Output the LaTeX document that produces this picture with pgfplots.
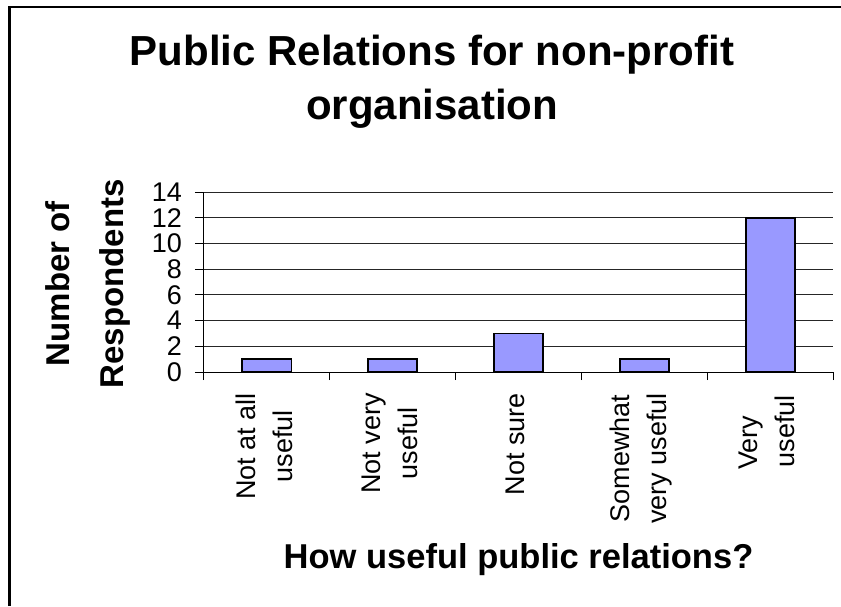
\documentclass[border=0pt]{standalone}
\usepackage{fontspec}
\setmainfont{Liberation Sans}
\usepackage{pgfplots}
\pgfplotsset{compat=1.18}
\definecolor{barfill}{HTML}{9999FF}

\begin{document}
\begin{tikzpicture}[x=1pt,y=1pt]
  \useasboundingbox (0,0) rectangle (841,606);
  % chart frame (left and top edges)
  \draw[line width=3pt] (9.5,0) -- (9.5,600);
  \draw[line width=2pt] (8,599) -- (841,599);

  \begin{axis}[
    at={(204pt,234pt)}, anchor=south west,
    scale only axis, width=629pt, height=180pt,
    xmin=-0.5, xmax=4.5, ymin=0, ymax=14,
    clip=false,
    axis x line*=bottom, axis y line*=left,
    axis line style={black, line width=1pt},
    ytick={0,2,...,14},
    ymajorgrids,
    major grid style={black!85, line width=1pt},
    tick align=outside,
    major tick length=9pt, minor tick length=8pt,
    tick style={black, line width=1pt},
    major x tick style={draw=none},
    xtick={0,1,2,3,4},
    minor xtick={-0.5,0.5,1.5,2.5,3.5,4.5},
    xticklabels={{Not at all\\useful},{Not very\\useful},{Not sure},{Somewhat\\very useful},{Very\hphantom{\ u}\\useful}},
    xticklabel style={rotate=90, anchor=east, align=center, inner sep=0pt,
      font=\fontsize{27}{37}\selectfont, xshift=-12pt, yshift=3pt},
    yticklabel style={anchor=east, inner sep=0pt, xshift=-13pt,
      font=\fontsize{27}{27}\selectfont},
    /pgf/number format/assume math mode=true,
    xlabel={How useful public relations?},
    xlabel style={at={(axis description cs:0.5,0)}, anchor=base, yshift=-196pt,
      font=\fontsize{34.5}{40}\selectfont\bfseries},
    ylabel={Number of\\[6pt]Respondents},
    ylabel style={at={(axis description cs:-0.1844,0.49)}, anchor=center,
      align=center, inner sep=0pt,
      font=\fontsize{33}{48}\selectfont\bfseries},
    title={Public Relations for non-profit\\[3pt]organisation},
    title style={at={(axis description cs:0.3625,1.84)}, anchor=north,
      align=center, inner sep=0pt, font=\fontsize{42}{51}\selectfont\bfseries},
  ]
    \addplot[ybar, bar width=49pt, fill=barfill, draw=black, line width=1.8pt]
      coordinates {(0,1) (1,1) (2,3) (3,1) (4,12)};
  \end{axis}
\end{tikzpicture}
\end{document}
